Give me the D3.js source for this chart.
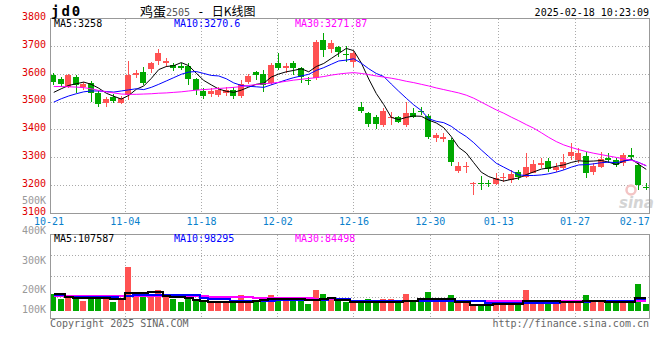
<!DOCTYPE html>
<html><head><meta charset="utf-8">
<script src="https://cdn.jsdelivr.net/npm/d3@7"></script>
<style>body{margin:0;background:#fff}svg{display:block}</style>
</head><body><svg id="c" width="660" height="360"></svg>
<script>
const dates = ["10-21","10-22","10-23","10-24","10-25","10-28","10-29","10-30","10-31",
"11-01","11-04","11-05","11-06","11-07","11-08","11-11","11-12","11-13","11-14","11-15","11-18","11-19","11-20","11-21","11-22","11-25","11-26","11-27","11-28","11-29",
"12-02","12-03","12-04","12-05","12-06","12-09","12-10","12-11","12-12","12-13","12-16","12-17","12-18","12-19","12-20","12-23","12-24","12-25","12-26","12-27","12-30","12-31",
"01-02","01-03","01-06","01-07","01-08","01-09","01-10","01-13","01-14","01-15","01-16","01-17","01-20","01-21","01-22","01-23","01-24","01-27",
"02-05","02-06","02-07","02-10","02-11","02-12","02-13","02-14","02-17","02-18"];
const open = [3598,3582,3555,3591,3555,3568,3532,3496,3519,3498,3526,3598,3607,3619,3649,3640,3633,3631,3630,3582,
3541,3529,3526,3534,3543,3522,3573,3607,3601,3568,3642,3622,3642,3622,3581,3586,3723,3690,3699,3672,
3645,3483,3460,3445,3418,3444,3445,3418,3462,3468,3450,3370,3366,3364,3253,3265,3206,3210,3210,3204,
3226,3220,3250,3230,3246,3274,3289,3256,3262,3306,3292,3306,3250,3268,3298,3292,3280,3309,3274,3196];
const close = [3573,3565,3598,3561,3565,3532,3493,3510,3505,3514,3597,3604,3568,3640,3678,3649,3622,3622,3582,3544,
3522,3541,3544,3545,3522,3565,3594,3597,3561,3633,3622,3630,3624,3591,3576,3717,3687,3712,3681,3668,
3676,3469,3421,3421,3469,3447,3429,3460,3447,3464,3373,3382,3376,3286,3270,3270,3210,3206,3204,3226,
3232,3241,3232,3265,3277,3282,3258,3265,3286,3322,3316,3246,3270,3294,3292,3274,3310,3304,3202,3190];
const high = [3605,3590,3601,3597,3572,3576,3540,3518,3529,3522,3648,3615,3626,3644,3690,3659,3642,3642,3642,3587,
3551,3551,3554,3554,3555,3579,3601,3613,3615,3641,3676,3642,3649,3627,3591,3723,3747,3723,3701,3702,
3685,3501,3465,3454,3478,3465,3450,3501,3478,3481,3457,3388,3388,3371,3286,3286,3214,3234,3220,3244,
3244,3256,3256,3318,3292,3298,3298,3280,3313,3352,3334,3322,3280,3322,3318,3298,3316,3334,3286,3208];
const low = [3562,3553,3551,3532,3543,3501,3481,3482,3497,3493,3508,3587,3561,3605,3633,3626,3613,3615,3561,3526,
3510,3518,3517,3522,3510,3514,3565,3580,3537,3561,3615,3604,3597,3568,3561,3579,3663,3676,3663,3645,
3627,3460,3412,3402,3412,3418,3424,3412,3442,3454,3366,3358,3358,3270,3244,3244,3166,3184,3196,3202,
3214,3210,3220,3226,3244,3262,3250,3250,3256,3292,3280,3226,3238,3262,3280,3265,3270,3292,3184,3184];
const volume = [142,101,127,121,84,136,112,136,75,98,381,150,130,142,179,121,101,78,121,92,
84,72,72,86,78,136,92,78,101,136,121,92,92,101,58,179,144,107,86,78,
69,92,101,78,101,101,72,144,78,78,162,101,78,136,78,78,58,58,41,64,
64,72,78,179,92,86,92,78,92,84,72,135,92,95,64,70,95,88,230,55].map(v => v * 1000);
const ma5 = [3535,3548,3560,3566,3572,3564,3550,3532,3521,3511,3524,3546,3558,3585,3617,3628,3631,3642,3631,3604,
3578,3562,3547,3539,3535,3543,3554,3564,3568,3590,3601,3609,3614,3620,3609,3628,3639,3657,3675,3693,
3685,3641,3583,3531,3491,3445,3437,3445,3450,3449,3435,3425,3408,3376,3337,3317,3282,3248,3232,3223,
3216,3222,3227,3239,3249,3259,3263,3269,3274,3283,3289,3287,3288,3290,3284,3275,3288,3295,3276,3258];
const ma10 = [3500,3512,3522,3530,3537,3540,3540,3538,3536,3540,3544,3548,3545,3553,3564,3576,3588,3600,3608,3610,
3603,3596,3594,3584,3569,3560,3557,3555,3553,3562,3571,3580,3588,3594,3600,3614,3624,3636,3648,3651,
3656,3640,3620,3603,3592,3565,3539,3514,3490,3470,3440,3431,3426,3413,3393,3376,3354,3328,3304,3280,
3266,3252,3238,3236,3236,3238,3242,3248,3256,3266,3274,3275,3278,3282,3284,3282,3288,3292,3283,3270.6];
const ma30 = [3556,3556,3555,3554,3552,3548,3542,3537,3533,3529,3528,3528,3529,3530,3532,3533,3535,3537,3540,3543,
3545,3547,3549,3551,3553,3556,3560,3563,3566,3568,3571,3575,3579,3582,3585,3588,3592,3597,3601,3604,
3606,3603,3599,3594,3590,3586,3581,3575,3570,3564,3558,3551,3545,3539,3533,3525,3514,3500,3486,3472,
3460,3446,3433,3419,3406,3390,3373,3358,3346,3337,3329,3322,3316,3311,3306,3301,3296,3291,3282,3271.87];
const volMa5 = [144,144,118,107,107,107,107,107,103,99,150,150,150,164,164,127,116,116,107,92,
80,72,72,72,72,78,78,80,92,99,101,101,101,101,92,92,99,107,92,92,
72,72,72,72,72,72,78,86,86,99,99,99,99,99,72,72,49,49,49,55,
55,55,55,86,86,86,86,86,78,78,78,86,86,86,78,78,72,72,107,107.587].map(v => v * 1000);
const volMa10 = [136,136,118,118,118,118,118,118,118,103,125,139,139,139,136,136,136,136,136,136,
107,99,99,99,84,84,84,84,84,84,92,92,92,92,92,92,92,107,99,99,
86,86,86,86,86,86,84,84,84,84,84,84,84,84,84,84,84,84,69,69,
69,69,64,64,69,69,69,69,78,78,78,78,86,86,86,86,86,86,99,98.295].map(v => v * 1000);
const volMa30 = [130,130,130,130,130,130,130,130,130,130,130,130,130,130,130,130,130,130,130,130,
130,116,116,116,116,116,116,107,107,107,107,107,107,107,107,101,101,101,103,103,
86,86,86,86,86,86,86,86,86,86,86,86,86,86,86,86,86,86,86,86,
86,86,86,86,82,82,82,82,82,82,82,82,82,82,82,82,82,82,82,84.498].map(v => v * 1000);

const priceTicks = [3800,3700,3600,3500,3400,3300,3200,3100];
const volTickLabels = ["500K","400K","300K","200K","100K"];
const dateTicks = ["10-21","11-04","11-18","12-02","12-16","12-30","01-13","01-27","02-17"];
const priceLegend = ["MA5:3258","MA10:3270.6","MA30:3271.87"];
const volLegend = ["MA5:107587","MA10:98295","MA30:84498"];
const titleCode = "jd0";
const titleName = ["鸡蛋","2505"," - ","日K线图"];
const timestamp = "2025-02-18 10:23:09";
const copyright = "Copyright 2025 SINA.COM";
const siteUrl = "http://finance.sina.com.cn";

const UP = "#ff5252", DOWN = "#00a800";
const maColors = ["#000000","#0000ff","#ff00ff"];
const MONO = "'DejaVu Sans Mono', monospace";

const svg = d3.select("#c");
const n = dates.length;

const x = d3.scaleBand().domain(dates).range([50, 650]);
const cx = d => x(d) + x.bandwidth() / 2;
const gridX = d3.scaleLinear().domain([10, 69]).range([125.3, 575]);
const y = d3.scaleLinear().domain([3100, 3800]).range([213.3, 18.7]);
const vy = d3.scaleLinear().domain([0, 661000]).range([310.7, 234.3]);
const volLabelY = d3.scalePoint().domain(volTickLabels.slice(0, 4)).range([204, 293.3]);

const px = v => Math.floor(v) + 0.5;
const data = dates.map((d, i) => ({d, i, o: open[i], c: close[i], h: high[i], l: low[i], v: volume[i]}));

// grids
const grid = svg.append("g").attr("stroke", "#aaa").attr("stroke-dasharray", "1,2").attr("stroke-width", 1);
priceTicks.slice(1, -1).forEach(t => {
  grid.append("line").attr("x1", 51).attr("x2", 649).attr("y1", px(y(t))).attr("y2", px(y(t)));
});
[0.25, 0.5, 0.75].forEach(f => {
  const yy = px(234.5 + (318.5 - 234.5) * f);
  grid.append("line").attr("x1", 51).attr("x2", 649).attr("y1", yy).attr("y2", yy);
});
dateTicks.slice(1, -1).forEach(t => {
  const gx = px(gridX(dates.indexOf(t)));
  grid.append("line").attr("x1", gx).attr("x2", gx).attr("y1", 19).attr("y2", 213);
  grid.append("line").attr("x1", gx).attr("x2", gx).attr("y1", 235).attr("y2", 318);
});

// watermark
const wm = svg.append("g");
wm.append("circle").attr("cx", 631).attr("cy", 190).attr("r", 4.5).attr("fill", "none").attr("stroke", "#f3c4c4").attr("stroke-width", 2.5);
wm.append("text").attr("x", 619).attr("y", 208).attr("font-family", "'DejaVu Sans', sans-serif").attr("font-weight", "bold")
  .attr("font-style", "italic").attr("font-size", 15).attr("fill", "#d4d4d4").text("sina");

// candles
const cg = svg.append("g").attr("shape-rendering", "crispEdges");
data.forEach(p => {
  const col = p.c >= p.o ? UP : DOWN;
  const c = cx(p.d);
  cg.append("line").attr("x1", px(c)).attr("x2", px(c)).attr("y1", Math.round(y(p.h))).attr("y2", Math.round(y(p.l)))
    .attr("stroke", col).attr("stroke-width", 1);
  const top = Math.round(y(Math.max(p.o, p.c))), bot = Math.round(y(Math.min(p.o, p.c)));
  cg.append("rect").attr("x", Math.floor(c - 3)).attr("width", 6).attr("y", top).attr("height", Math.max(1, bot - top)).attr("fill", col);
  const vt = Math.round(vy(p.v));
  cg.append("rect").attr("x", Math.floor(c - 3)).attr("width", 6).attr("y", vt).attr("height", Math.round(vy(0)) - vt).attr("fill", col);
});

// MA lines
const line = d3.line().x((v, i) => cx(dates[i])).y(v => y(v));
[ma5, ma10, ma30].forEach((arr, k) => {
  svg.append("path").attr("d", line(arr)).attr("fill", "none").attr("stroke", maColors[k]).attr("stroke-width", 1);
});
const vline = d3.line().x((v, i) => cx(dates[i])).y(v => Math.round(vy(v))).curve(d3.curveStep);
[volMa30, volMa10, volMa5].forEach((arr, k) => {
  svg.append("path").attr("d", vline(arr)).attr("fill", "none").attr("stroke", maColors[2 - k]).attr("stroke-width", 2)
    .attr("shape-rendering", "crispEdges");
});

// frames
svg.append("rect").attr("x", 50.5).attr("y", 18.5).attr("width", 599).attr("height", 195).attr("fill", "none").attr("stroke", "#999");
svg.append("rect").attr("x", 50.5).attr("y", 234.5).attr("width", 599).attr("height", 84).attr("fill", "none").attr("stroke", "#999");

// texts
const txt = (xx, yy, s, col, anchor) => svg.append("text").attr("x", xx).attr("y", yy).attr("font-family", MONO)
  .attr("font-size", 10).attr("fill", col).attr("text-anchor", anchor || "start").text(s);

priceTicks.forEach(t => txt(46, y(t) + 1.2, String(t), "#e00000", "end"));
volTickLabels.forEach(l => {
  const yy = l === "100K" ? vy(0) + 2.6 : volLabelY(l);
  txt(46, yy, l, "#999", "end");
});
dateTicks.forEach(t => {
  let c = gridX(dates.indexOf(t));
  c = Math.min(c, 634.8);
  txt(c, 225, t, "#0a7fcc", "middle");
});
const legX = [54, 174, 295];
priceLegend.forEach((s, k) => txt(legX[k], 26.5, s, maColors[k]));
volLegend.forEach((s, k) => txt(legX[k], 241.5, s, maColors[k]));
txt(649, 15.5, timestamp, "#000", "end");
txt(50, 326.5, copyright, "#666");
txt(649, 326.5, siteUrl, "#666", "end");

svg.append("text").attr("x", 51).attr("y", 15.5).attr("font-family", MONO).attr("font-weight", "bold")
  .attr("font-size", 14).attr("letter-spacing", 2).attr("fill", "#000").text(titleCode);
const tt = svg.append("text").attr("x", 140).attr("y", 15.5).attr("fill", "#000");
tt.append("tspan").attr("font-family", "'Noto Sans CJK SC'").attr("font-size", 13).text(titleName[0]);
tt.append("tspan").attr("font-family", MONO).attr("font-size", 10).attr("fill", "#555").text(titleName[1]);
tt.append("tspan").attr("font-family", MONO).attr("font-size", 12).text(titleName[2]);
tt.append("tspan").attr("font-family", "'Noto Sans CJK SC'").attr("font-size", 12).text(titleName[3]);
</script></body></html>
